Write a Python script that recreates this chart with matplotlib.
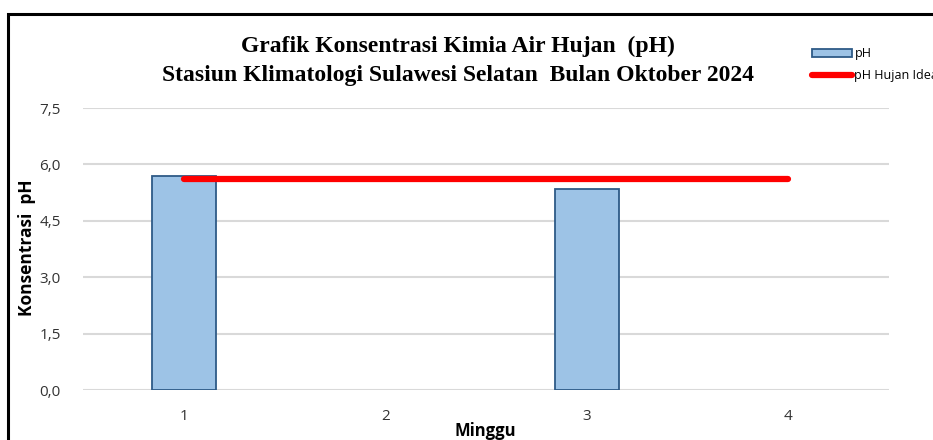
import matplotlib
matplotlib.use("Agg")
import matplotlib.pyplot as plt
from matplotlib.patches import Rectangle
from matplotlib.lines import Line2D
from matplotlib.patches import Patch

weeks = ["1", "2", "3", "4"]
ph_values = [5.68, 0.0, 5.35, 0.0]
ph_ideal = [5.6, 5.6, 5.6, 5.6]
yticks = [0.0, 1.5, 3.0, 4.5, 6.0, 7.5]
ytick_labels = ["0,0", "1,5", "3,0", "4,5", "6,0", "7,5"]

fig = plt.figure(figsize=(9.33, 4.4), dpi=100)
ax = fig.add_axes([83/933, 1-390/440, (889-83)/933, (390-108)/440])

x = list(range(1, len(weeks)+1))
bars = [v if v > 0 else float('nan') for v in ph_values]
ax.bar(x, bars, width=0.32, color="#9DC3E6", edgecolor="#2E5A87", linewidth=1.3, zorder=2)
ax.plot(x, ph_ideal, color="#FF0000", linewidth=4.5, solid_capstyle="round", zorder=3)

ax.set_xlim(0.5, 4.5)
ax.set_ylim(0, 7.5)
ax.set_yticks(yticks)
ax.set_yticklabels(ytick_labels)
ax.set_xticks(x)
ax.set_xticklabels(weeks)
ax.tick_params(axis="both", length=0, labelsize=11, colors="#333333")
ax.tick_params(axis="y", pad=16)
ax.tick_params(axis="x", pad=14)
for lbl in ax.get_xticklabels() + ax.get_yticklabels():
    lbl.set_family("Open Sans")
ax.grid(axis="y", color="#D9D9D9", linewidth=1.5, zorder=0)
ax.set_axisbelow(True)
for s in ax.spines.values():
    s.set_visible(False)

fig.text(27/933, 1-248/440, "Konsentrasi  pH", ha="center", va="center", rotation=90,
         fontsize=12.5, fontweight="bold", family="Open Sans")
fig.text(485/933, 1-431/440, "Minggu", ha="center", va="center", fontsize=12, fontweight="bold", family="Open Sans")

fig.text(458/933, 1-46/440, "Grafik Konsentrasi Kimia Air Hujan  (pH)", ha="center", va="center",
         fontsize=17, fontweight="bold", family="Liberation Serif")
fig.text(458/933, 1-76/440, "Stasiun Klimatologi Sulawesi Selatan  Bulan Oktober 2024", ha="center", va="center",
         fontsize=17, fontweight="bold", family="Liberation Serif")

handles = [Patch(facecolor="#9DC3E6", edgecolor="#2E5A87", linewidth=1.3),
           Line2D([0], [0], color="#FF0000", linewidth=4.5, solid_capstyle="round")]
leg = fig.legend(handles, ["pH", "pH Hujan Ideal"], loc="upper left", bbox_to_anchor=(812/933, 1-47/440),
                 frameon=False, fontsize=9, handlelength=3.2, handleheight=0.6, handletextpad=0.2,
                 labelspacing=0.75, borderaxespad=0, borderpad=0)
for t in leg.get_texts():
    t.set_family("Open Sans")

fig.patches.append(Rectangle((8/933, -0.1), 1.2, 1.1 - 14/440, transform=fig.transFigure,
                             fill=False, edgecolor="black", linewidth=2.2))

fig.savefig("out.png", dpi=100)
